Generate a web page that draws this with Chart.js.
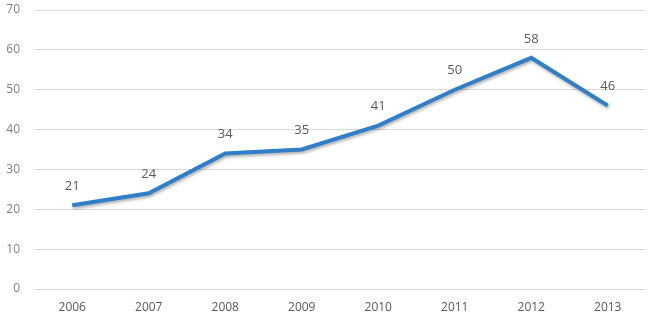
<!DOCTYPE html>
<html><head><meta charset="utf-8">
<script src="https://cdn.jsdelivr.net/npm/chart.js@4/dist/chart.umd.min.js"></script>
<style>html,body{margin:0;padding:0;background:#fff}#wrap{width:650px;height:317px}</style>
</head><body><div id="wrap"><canvas id="c"></canvas></div>
<script>
const categories = ['2006','2007','2008','2009','2010','2011','2012','2013'];
const values = [21,24,34,35,41,50,58,46];
const yTicks = [0,10,20,30,40,50,60,70];

const labelPlugin = {
  id: 'pointLabels',
  afterDatasetsDraw(chart) {
    const ctx = chart.ctx;
    const meta = chart.getDatasetMeta(0);
    ctx.save();
    ctx.font = '13px "Open Sans", "Liberation Sans", sans-serif';
    ctx.fillStyle = '#595959';
    ctx.textAlign = 'center';
    ctx.textBaseline = 'middle';
    meta.data.forEach((pt, i) => {
      ctx.fillText(String(values[i]), pt.x, pt.y - 19);
    });
    ctx.restore();
  }
};
const shadowPlugin = {
  id: 'lineShadow',
  beforeDatasetsDraw(chart) {
    const ctx = chart.ctx;
    ctx.save();
    ctx.shadowColor = 'rgba(0,0,0,0.3)';
    ctx.shadowBlur = 3;
    ctx.shadowOffsetX = 1;
    ctx.shadowOffsetY = 2;
  },
  afterDatasetsDraw(chart) { chart.ctx.restore(); }
};

new Chart(document.getElementById('c'), {
  type: 'line',
  data: { labels: categories, datasets: [{
    data: values, borderColor: '#2f7ec7', borderWidth: 4,
    pointRadius: 0, tension: 0, fill: false, borderJoinStyle: 'miter', borderCapStyle: 'butt'
  }]},
  options: {
    responsive: true, maintainAspectRatio: false, animation: false,
    layout: { autoPadding: false, padding: { top: 10, right: 4, left: 0, bottom: 0 } },
    plugins: { legend: { display: false }, tooltip: { enabled: false } },
    scales: {
      x: { offset: true,
        afterFit(s) { s.height = 28; s.paddingLeft = 0; s.paddingRight = 0; },
        grid: { display: false }, border: { display: false },
        ticks: { color: '#595959', font: { size: 12, family: '"Open Sans", "Liberation Sans", sans-serif' }, padding: 3 } },
      y: { min: 0, max: 70,
        afterFit(s) { s.width = 34; s.paddingTop = 0; s.paddingBottom = 0; },
        afterBuildTicks(s) { s.ticks = yTicks.map(v => ({ value: v })); },
        grid: { color: '#dadada', lineWidth: 1, drawTicks: false }, border: { display: false },
        ticks: { color: '#808080', padding: 14, font: { size: 12, family: '"Open Sans", "Liberation Sans", sans-serif' } } }
    }
  },
  plugins: [shadowPlugin, labelPlugin]
});
</script></body></html>
